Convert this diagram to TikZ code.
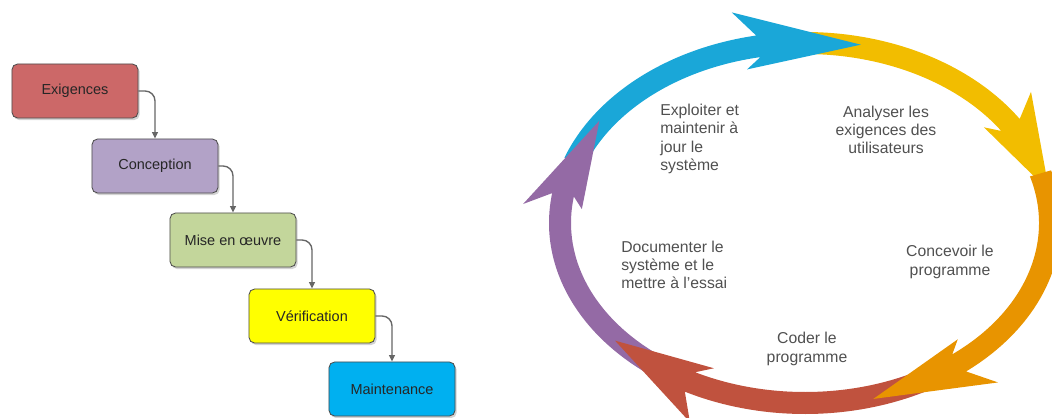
\documentclass[tikz,border=0pt]{standalone}
\usepackage{fontspec}
\setmainfont{Liberation Sans}
\usetikzlibrary{arrows.meta,shadows}
\definecolor{exigred}{RGB}{204,104,104}
\definecolor{concviolet}{RGB}{178,162,199}
\definecolor{misegreen}{RGB}{195,214,155}
\definecolor{verifyellow}{RGB}{255,255,0}
\definecolor{maintblue}{RGB}{0,176,240}
\definecolor{cycblue}{RGB}{26,167,216}
\definecolor{cycyellow}{RGB}{242,189,0}
\definecolor{cycorange}{RGB}{232,148,0}
\definecolor{cycred}{RGB}{192,82,62}
\definecolor{cycpurple}{RGB}{148,106,165}
\definecolor{lblgray}{RGB}{80,80,80}
\begin{document}
\begin{tikzpicture}[x=0.025cm, y=0.025cm,
  box/.style={draw=black!70, line width=0.6pt, rounded corners=4pt, minimum width=3.15cm, minimum height=1.35cm,
    font=\fontsize{10.3}{12}\selectfont, text=black!85, drop shadow={shadow xshift=1.2pt, shadow yshift=-1.5pt, opacity=0.35}},
  link/.style={draw=black!60, line width=1pt, rounded corners=7pt, -{Triangle[length=4.5pt, width=4pt]}},
  lbl/.style={font=\fontsize{11.2}{13}\selectfont, text=lblgray, inner sep=0pt}]
\useasboundingbox (0,0) rectangle (1052,417);

% waterfall
\foreach \name/\txt/\col/\x/\y in {ex/Exigences/exigred/75/326, conc/Conception/concviolet/155/251,
    mise/Mise en œuvre/misegreen/233/177, verif/Vérification/verifyellow/312/101, maint/Maintenance/maintblue/392/28}
  \node[box, fill=\col] (\name) at (\x,\y) {\txt};
\foreach \a/\b in {ex/conc, conc/mise, mise/verif, verif/maint}
  \draw[link] (\a.east) -| (\b.north);

% cycle
\foreach \col/\ts/\tn/\tt in {cycyellow/92/33/10, cycblue/160/101/77, cycpurple/235/171/146, cycred/-60/-118/-140, cycorange/16/-51/-74} {
  \fill[\col] ({805+256*cos(\ts)},{194+191*sin(\ts)})
    arc[start angle=\ts, end angle=\tn, x radius=256, y radius=191]
    -- ({805+283*cos(\tn+4)},{194+218*sin(\tn+4)})
    -- ({805+248*cos(\tt)},{194+183*sin(\tt)})
    -- ({805+224*cos(\tn+4)},{194+159*sin(\tn+4)})
    -- ({805+234*cos(\tn)},{194+169*sin(\tn)})
    arc[start angle=\tn, end angle=\ts, x radius=234, y radius=169] -- cycle;
}
\node[lbl, align=left, anchor=west] (exploit) at (660,278) {Exploiter et\\maintenir à\\jour le\\système};
\node[lbl, align=center] (analyse) at (886,287) {Analyser les\\exigences des\\utilisateurs};
\node[lbl, align=center] (concevoir) at (950,155) {Concevoir le\\programme};
\node[lbl, align=center] (coder) at (807,68) {Coder le\\programme};
\node[lbl, align=left, anchor=west] (document) at (621,152) {Documenter le\\système et le\\mettre à l’essai};
\end{tikzpicture}
\end{document}
